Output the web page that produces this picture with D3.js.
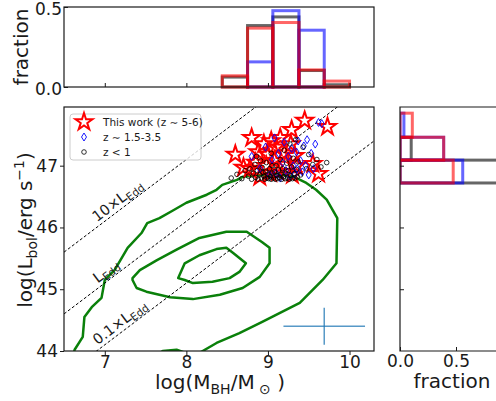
<!DOCTYPE html>
<html>
<head>
<meta charset="utf-8">
<script src="https://cdn.jsdelivr.net/npm/d3@7"></script>
<style>
body { margin: 0; background: #fff; }
svg { font-family: "DejaVu Sans", sans-serif; }
</style>
</head>
<body>
<div id="chart"></div>
<script>
// ---- data ----
// This work (z ~ 5-6): [log M_BH, log L_bol]
const starPts = [
  [8.60, 47.18], [8.70, 46.97], [9.29, 47.58], [9.45, 47.73], [9.73, 47.63], [9.55, 47.03], [9.62, 46.87],
  [8.80, 47.45], [8.88, 47.22], [8.95, 47.35], [9.00, 47.18], [9.04, 47.40], [9.10, 47.30], [9.15, 47.45],
  [9.20, 47.20], [9.28, 47.35], [9.33, 47.16],
  [8.78, 46.95], [8.85, 47.05], [8.90, 46.82], [8.98, 47.00], [9.03, 46.88], [9.08, 47.08], [9.12, 46.90],
  [9.22, 47.02], [9.30, 46.85], [9.35, 47.00]
];
// z ~ 1.5-3.5
const diamondPts = [
  [8.80, 47.15], [8.90, 46.95], [8.97, 47.30], [9.02, 46.85], [9.05, 47.10],
  [9.08, 47.45], [9.10, 46.88], [9.13, 47.20], [9.15, 46.80], [9.18, 47.05], [9.20, 47.38], [9.22, 46.92],
  [9.25, 47.15], [9.27, 46.83], [9.29, 47.28], [9.31, 47.00], [9.33, 46.86], [9.35, 47.22], [9.36, 46.95],
  [9.37, 47.40],
  [9.40, 47.08], [9.42, 46.90], [9.44, 47.32], [9.46, 47.00], [9.48, 47.42], [9.50, 46.85], [9.53, 47.20],
  [9.56, 46.95], [9.58, 47.35], [9.62, 47.70], [9.66, 47.68]
];
// z < 1
const circlePts = [
  [8.55, 46.80], [8.62, 46.86], [8.68, 46.79], [8.72, 46.92],
  [8.76, 46.83], [8.78, 46.95], [8.80, 46.78], [8.82, 46.88], [8.84, 47.02], [8.85, 46.81], [8.87, 46.92],
  [8.88, 46.78], [8.90, 46.85], [8.91, 47.08], [8.92, 46.80], [8.93, 46.97], [8.95, 46.83], [8.96, 46.78],
  [8.97, 46.90], [8.98, 47.05], [8.99, 46.80], [9.00, 46.86], [9.01, 46.79], [9.02, 46.95], [9.03, 46.82],
  [9.04, 47.20], [9.04, 46.78], [9.05, 46.88], [8.86, 47.15], [8.94, 46.89], [9.05, 47.00],
  [9.07, 46.80], [9.08, 46.90], [9.09, 46.78], [9.10, 47.00], [9.11, 46.84], [9.12, 46.79], [9.13, 46.93],
  [9.14, 46.81], [9.15, 47.10], [9.16, 46.86], [9.17, 46.78], [9.18, 46.95], [9.19, 46.82], [9.20, 47.25],
  [9.21, 46.79], [9.22, 46.88], [9.23, 47.04], [9.24, 46.80], [9.25, 46.92], [9.26, 46.78], [9.27, 47.35],
  [9.28, 46.84], [9.29, 46.98], [9.30, 46.79], [9.31, 47.12], [9.32, 46.87], [9.33, 46.80], [9.34, 47.42],
  [9.35, 46.94], [9.36, 46.82], [9.37, 47.06],
  [9.40, 46.85], [9.43, 47.30], [9.47, 46.95], [9.50, 47.18], [9.55, 47.02], [9.60, 47.10], [9.65, 46.98],
  [9.72, 47.05]
];

// density contours of the low-z sample
const contourOuter = [
  [6.60, 43.85], [6.63, 44.02], [6.73, 44.23], [6.75, 44.55], [6.84, 44.71], [6.96, 44.86], [7.00, 45.15],
  [7.12, 45.31], [7.28, 45.67], [7.45, 45.91], [7.52, 46.07], [7.67, 46.15], [7.83, 46.27], [8.00, 46.40],
  [8.25, 46.53], [8.37, 46.61], [8.44, 46.69], [8.62, 46.77], [8.69, 46.82], [8.90, 46.85], [9.11, 46.87],
  [9.30, 46.83], [9.47, 46.72], [9.59, 46.61], [9.72, 46.45], [9.85, 46.15], [9.84, 45.42], [9.67, 45.15],
  [9.39, 44.78], [8.93, 44.47], [8.65, 44.29], [8.37, 44.13], [8.20, 44.00], [8.10, 43.92], [7.88, 44.02],
  [7.71, 44.00], [7.55, 43.85]
];
const contourMid = [
  [7.34, 45.18], [7.43, 45.31], [7.64, 45.47], [7.88, 45.64], [8.16, 45.83], [8.49, 45.93], [8.74, 45.93],
  [8.93, 45.76], [9.02, 45.67], [9.02, 45.42], [8.90, 45.20], [8.69, 45.02], [8.41, 44.91], [8.08, 44.84],
  [7.80, 44.87], [7.51, 44.96], [7.39, 45.02], [7.34, 45.15]
];
const contourInner = [
  [7.98, 45.42], [8.16, 45.55], [8.37, 45.65], [8.49, 45.67], [8.57, 45.59], [8.73, 45.42], [8.65, 45.28],
  [8.53, 45.18], [8.32, 45.12], [8.08, 45.10], [7.98, 45.15], [7.90, 45.18]
];

// Eddington ratio lines: log L = log M + 38.1 + log(lambda)
const eddOffset = 38.1;
const eddLogLambda = [1, 0, -1];
const eddLabels = ["10×L", "L", "0.1×L"];
const eddLabelAt = [7.22, 7.08, 7.25];

// typical error bar
const errCenter = [9.69, 44.40];
const errHalf = [0.5, 0.3];

// histograms (fractions)
const massEdges = [8.44, 8.75, 9.06, 9.38, 9.69, 10.0];
const massFracLow = [0.062, 0.384, 0.438, 0.103, 0.014];
const massFracMid = [0.0, 0.157, 0.477, 0.355, 0.0];
const massFracThis = [0.070, 0.368, 0.403, 0.107, 0.037];
const lumEdges = [46.72, 47.09, 47.46, 47.85];
const lumFracLow = [0.90, 0.10, 0.0];
const lumFracMid = [0.56, 0.39, 0.035];
const lumFracThis = [0.475, 0.39, 0.11];

// ---- layout ----
const svg = d3.select("#chart")
    .append("svg")
    .attr("width", 496)
    .attr("height", 401);

const x = d3.scaleLinear().domain([6.5, 10.3]).range([64, 374]);
const y = d3.scaleLinear().domain([44, 47.95]).range([351, 107]);
const yTop = d3.scaleLinear().domain([0, 0.5]).range([87, 7]);
const xRight = d3.scaleLinear().domain([0, 1]).range([400, 512]);

const ink = "#1a1a1a";
const tickFont = 17;

const defs = svg.append("defs");
defs.append("clipPath").attr("id", "clipMain")
    .append("rect").attr("x", x(6.5)).attr("y", y(47.95))
    .attr("width", x(10.3) - x(6.5)).attr("height", y(44) - y(47.95));
defs.append("clipPath").attr("id", "clipRight")
    .append("rect").attr("x", 400).attr("y", 100).attr("width", 100).attr("height", 260);

function styleAxis(g) {
    g.select(".domain").remove();
    g.selectAll(".tick line").attr("stroke", ink).attr("stroke-width", 1);
    g.selectAll(".tick text").attr("fill", ink).attr("font-size", tickFont)
        .attr("font-family", "DejaVu Sans, sans-serif");
}

// ---- main panel ----
const mainPanel = svg.append("g");
const plot = mainPanel.append("g").attr("clip-path", "url(#clipMain)");

// contours
const cLine = d3.line().x(d => x(d[0])).y(d => y(d[1]));
[contourOuter, contourMid, contourInner].forEach(c => {
    plot.append("path")
        .attr("d", cLine(c) + "Z")
        .attr("fill", "none")
        .attr("stroke", "#0a800a")
        .attr("stroke-width", 2.5)
        .attr("stroke-linejoin", "round");
});

// Eddington lines
eddLogLambda.forEach(k => {
    plot.append("line")
        .attr("x1", x(6.5)).attr("y1", y(6.5 + eddOffset + k))
        .attr("x2", x(10.3)).attr("y2", y(10.3 + eddOffset + k))
        .attr("stroke", "#000")
        .attr("stroke-width", 1)
        .attr("stroke-dasharray", "3,2");
});

// error bar
plot.append("line")
    .attr("x1", x(errCenter[0] - errHalf[0])).attr("x2", x(errCenter[0] + errHalf[0]))
    .attr("y1", y(errCenter[1])).attr("y2", y(errCenter[1]))
    .attr("stroke", "#1f77b4").attr("stroke-opacity", 0.75).attr("stroke-width", 1.5);
plot.append("line")
    .attr("x1", x(errCenter[0])).attr("x2", x(errCenter[0]))
    .attr("y1", y(errCenter[1] - errHalf[1])).attr("y2", y(errCenter[1] + errHalf[1]))
    .attr("stroke", "#1f77b4").attr("stroke-opacity", 0.75).attr("stroke-width", 1.5);

// markers
const starPath = d3.symbol().type(d3.symbolStar).size(90)();
const diamondPath = "M0,-4L2.5,0L0,4L-2.5,0Z";

plot.selectAll(".star").data(starPts).enter().append("path")
    .attr("class", "star")
    .attr("d", starPath)
    .attr("transform", d => `translate(${x(d[0])},${y(d[1])})`)
    .attr("fill", "none").attr("stroke", "#ff0000").attr("stroke-width", 2)
    .attr("stroke-linejoin", "miter");

plot.selectAll(".dia").data(diamondPts).enter().append("path")
    .attr("class", "dia")
    .attr("d", diamondPath)
    .attr("transform", d => `translate(${x(d[0])},${y(d[1])})`)
    .attr("fill", "none").attr("stroke", "#0000ff").attr("stroke-width", 0.9);

plot.selectAll(".dot").data(circlePts).enter().append("circle")
    .attr("class", "dot")
    .attr("cx", d => x(d[0])).attr("cy", d => y(d[1])).attr("r", 2.3)
    .attr("fill", "none").attr("stroke", "#000").attr("stroke-width", 0.8);

// Eddington labels, rotated along the lines
const ang = Math.atan2(y(45) - y(46), x(8) - x(7)) * 180 / Math.PI;
eddLogLambda.forEach((k, i) => {
    const m = eddLabelAt[i];
    const px = x(m), py = y(m + eddOffset + k);
    const t = mainPanel.append("text")
        .attr("transform", `translate(${px},${py}) rotate(${-ang}) translate(0,-4)`)
        .attr("text-anchor", "middle")
        .attr("font-size", 14.5)
        .attr("fill", ink);
    t.append("tspan").text(eddLabels[i]);
    t.append("tspan").attr("font-size", 10.5).attr("dy", 3).text("Edd");
});

// axes
mainPanel.append("g").attr("transform", `translate(0,${y(44)})`)
    .call(d3.axisBottom(x).tickValues([7, 8, 9, 10]).tickSize(4).tickPadding(1).tickFormat(d3.format("d")))
    .call(styleAxis);
mainPanel.append("g").attr("transform", `translate(${x(6.5)},0)`)
    .call(d3.axisLeft(y).tickValues([44, 45, 46, 47]).tickSize(4).tickPadding(2).tickFormat(d3.format("d")))
    .call(styleAxis);
mainPanel.append("rect")
    .attr("x", x(6.5)).attr("y", y(47.95))
    .attr("width", x(10.3) - x(6.5)).attr("height", y(44) - y(47.95))
    .attr("fill", "none").attr("stroke", ink).attr("stroke-width", 1.2);

// legend
const leg = mainPanel.append("g");
leg.append("rect")
    .attr("x", 70).attr("y", 114).attr("width", 131).attr("height", 46).attr("rx", 3)
    .attr("fill", "#fff").attr("fill-opacity", 0.8)
    .attr("stroke", "#cccccc").attr("stroke-width", 1);
const legItems = [
    { label: "This work (z ∼ 5-6)", d: starPath, stroke: "#ff0000", sw: 2 },
    { label: "z ∼ 1.5-3.5", d: diamondPath, stroke: "#0000ff", sw: 0.9 },
    { label: "z < 1", d: null, stroke: "#000", sw: 0.8 }
];
legItems.forEach((it, i) => {
    const cy = 122 + i * 15;
    if (it.d) {
        leg.append("path").attr("d", it.d).attr("transform", `translate(84,${cy})`)
            .attr("fill", "none").attr("stroke", it.stroke).attr("stroke-width", it.sw);
    } else {
        leg.append("circle").attr("cx", 84).attr("cy", cy).attr("r", 2.3)
            .attr("fill", "none").attr("stroke", it.stroke).attr("stroke-width", it.sw);
    }
    leg.append("text").attr("x", 103).attr("y", cy).attr("dy", "0.36em")
        .attr("font-size", 10.5).attr("fill", ink).text(it.label);
});

// ---- top histogram (mass) ----
const topPanel = svg.append("g");
function massBars(vals, color) {
    topPanel.append("g").selectAll("rect").data(vals).enter().append("rect")
        .attr("x", (d, i) => x(massEdges[i]))
        .attr("width", (d, i) => x(massEdges[i + 1]) - x(massEdges[i]))
        .attr("y", d => yTop(d))
        .attr("height", d => yTop(0) - yTop(d))
        .attr("fill", "none")
        .attr("stroke", color).attr("stroke-opacity", 0.6).attr("stroke-width", 3);
}
massBars(massFracLow, "#000");
massBars(massFracMid, "#0000ff");
massBars(massFracThis, "#ff0000");

topPanel.append("g").attr("transform", `translate(0,${yTop(0)})`)
    .call(d3.axisBottom(x).tickValues([7, 8, 9, 10]).tickSize(-4).tickFormat(""))
    .call(styleAxis);
topPanel.append("g").attr("transform", `translate(${x(6.5)},0)`)
    .call(d3.axisLeft(yTop).tickValues([0, 0.5]).tickSize(-4).tickPadding(2).tickFormat(d3.format(".1f")))
    .call(styleAxis)
    .call(g => g.selectAll(".tick text").attr("y", 2));
topPanel.append("rect")
    .attr("x", x(6.5)).attr("y", yTop(0.5))
    .attr("width", x(10.3) - x(6.5)).attr("height", yTop(0) - yTop(0.5))
    .attr("fill", "none").attr("stroke", ink).attr("stroke-width", 1.2);

// ---- right histogram (luminosity) ----
const rightPanel = svg.append("g");
const rightBars = rightPanel.append("g").attr("clip-path", "url(#clipRight)");
function lumBars(vals, color) {
    rightBars.append("g").selectAll("rect").data(vals).enter().append("rect")
        .attr("x", xRight(0))
        .attr("width", d => xRight(d) - xRight(0))
        .attr("y", (d, i) => y(lumEdges[i + 1]))
        .attr("height", (d, i) => y(lumEdges[i]) - y(lumEdges[i + 1]))
        .attr("fill", "none")
        .attr("stroke", color).attr("stroke-opacity", 0.6).attr("stroke-width", 3);
}
lumBars(lumFracLow, "#000");
lumBars(lumFracMid, "#0000ff");
lumBars(lumFracThis, "#ff0000");

rightPanel.append("g").attr("transform", `translate(0,${y(44)})`)
    .call(d3.axisBottom(xRight).tickValues([0, 0.5]).tickSize(-4).tickPadding(4).tickFormat(d3.format(".1f")))
    .call(styleAxis);
rightPanel.append("g").attr("transform", `translate(${xRight(0)},0)`)
    .call(d3.axisLeft(y).tickValues([45, 46, 47]).tickSize(-4).tickFormat(""))
    .call(styleAxis);
rightPanel.append("path")
    .attr("d", `M${xRight(1.2)},${y(47.95)}H${xRight(0)}V${y(44)}H${xRight(1.2)}`)
    .attr("fill", "none").attr("stroke", ink).attr("stroke-width", 1.2);

// ---- axis titles ----
function rich(sel, parts) {
    parts.forEach(p => {
        const t = sel.append("tspan").text(p[0]);
        if (p[1]) t.attr("font-size", 14).attr("dy", p[1]);
        if (p[2]) t.attr("dy", p[2]);
    });
}
const xt = svg.append("text").attr("x", 220).attr("y", 389)
    .attr("text-anchor", "middle").attr("font-size", 20).attr("fill", ink);
rich(xt, [["log(M"], ["BH", 5], ["/M", null, -5], [" ⊙", 5], [" )", null, -5]]);

const yt = svg.append("text").attr("transform", "translate(32,230) rotate(-90)")
    .attr("text-anchor", "middle").attr("font-size", 20).attr("fill", ink);
rich(yt, [["log(L"], ["bol", 5], ["/erg s", null, -5], ["−1", -8], [")", null, 8]]);

svg.append("text").attr("transform", "translate(28,47) rotate(-90)")
    .attr("text-anchor", "middle").attr("font-size", 20).attr("fill", ink).text("fraction");
svg.append("text").attr("x", 452).attr("y", 388)
    .attr("text-anchor", "middle").attr("font-size", 20).attr("fill", ink).text("fraction");
</script>
</body>
</html>
